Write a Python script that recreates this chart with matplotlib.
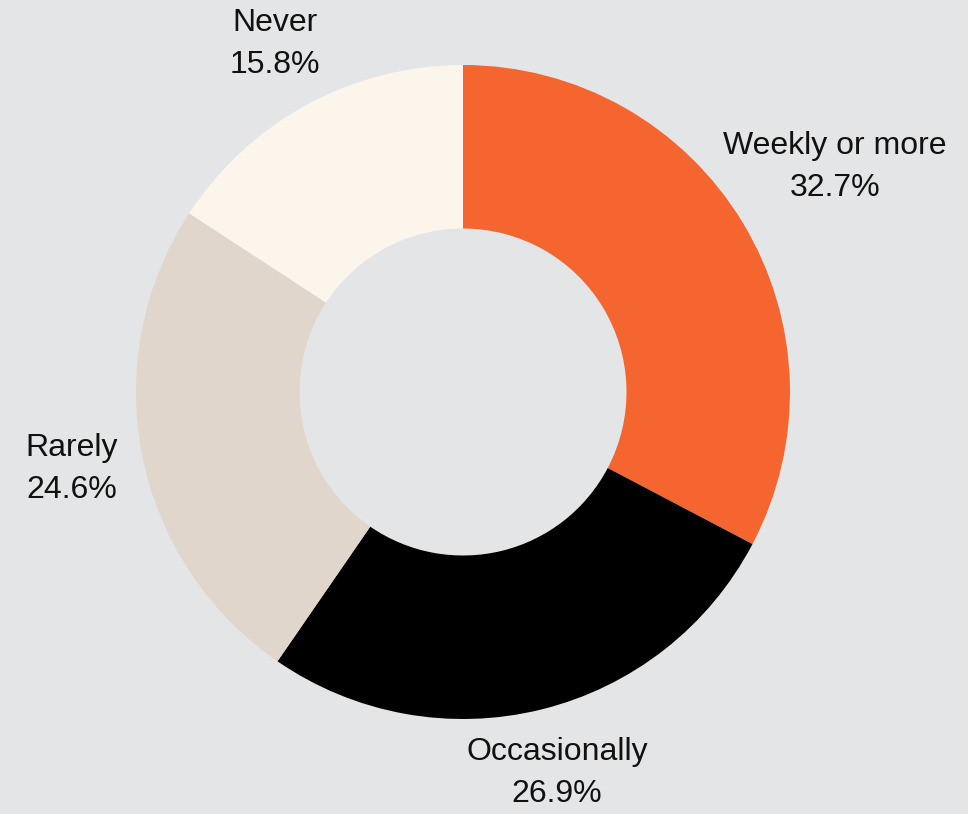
import matplotlib.pyplot as plt
import numpy as np

# Ответы на вопрос о частоте
categories = ['Weekly or more', 'Occasionally', 'Rarely', 'Never']
shares = [32.7, 26.9, 24.6, 15.8]
colors = ['#f46530', '#000000', '#e0d6cb', '#fbf5ec']
label_r = [1.33, 1.20, 1.22, 1.21]

bg = '#e4e5e6'
plt.rcParams['font.family'] = ['Liberation Sans', 'DejaVu Sans']

fig = plt.figure(figsize=(9.68, 8.14), dpi=100, facecolor=bg)
ax = fig.add_axes([0, 0, 1, 1])
ax.set_facecolor(bg)

cx, cy, R = 463, 422, 327  # центр в пикселях (ось y снизу вверх)
wedges, _ = ax.pie(shares, colors=colors, startangle=90, counterclock=False,
                   radius=R, center=(cx, cy),
                   wedgeprops=dict(width=R * 0.5, linewidth=0))

# Подписи по середине каждого сектора
for w, name, val, k in zip(wedges, categories, shares, label_r):
    ang = np.deg2rad((w.theta1 + w.theta2) / 2)
    x = cx + k * R * np.cos(ang)
    y = cy + k * R * np.sin(ang)
    ax.text(x, y, f'{name}\n{val}%', ha='center', va='center',
            fontsize=23, linespacing=1.5, color='#111111')

ax.set_xlim(0, 968)
ax.set_ylim(0, 814)
ax.set_aspect('equal')
ax.axis('off')

fig.savefig('out.png', dpi=100, facecolor=bg)
